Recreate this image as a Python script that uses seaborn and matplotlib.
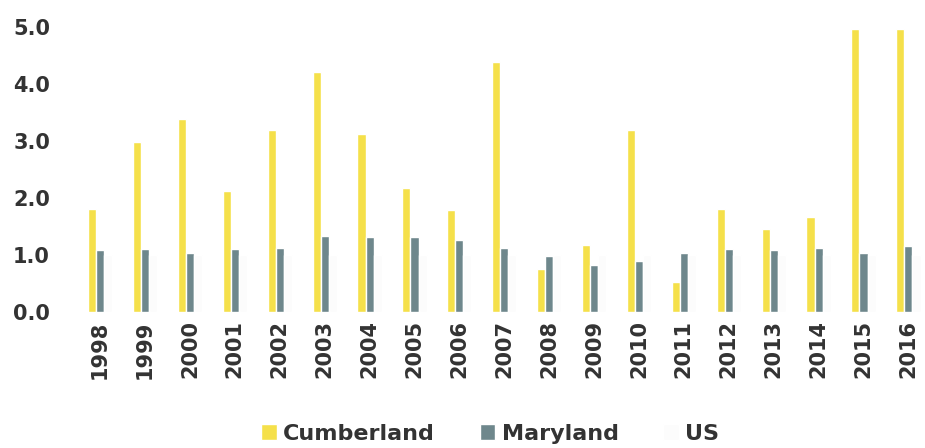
import matplotlib
matplotlib.use("Agg")
import matplotlib.pyplot as plt
import seaborn as sns
import pandas as pd

years = [str(y) for y in range(1998, 2017)]
cumberland = [1.81, 2.99, 3.39, 2.12, 3.20, 4.21, 3.13, 2.17, 1.79, 4.38,
              0.76, 1.17, 3.20, 0.52, 1.81, 1.46, 1.67, 4.96, 4.96]
maryland = [1.08, 1.11, 1.04, 1.10, 1.13, 1.34, 1.32, 1.32, 1.27, 1.13,
            0.99, 0.82, 0.90, 1.03, 1.11, 1.08, 1.13, 1.03, 1.15]
us = [1.00, 1.00, 1.00, 1.00, 1.00, 1.00, 1.00, 1.00, 1.00, 1.00,
      1.00, 1.00, 1.00, 1.00, 1.00, 1.00, 1.00, 1.00, 1.00]
series_names = ["Cumberland", "Maryland", "US"]
colors = ["#F5E04A", "#6E878C", "#FCFCFC"]

rows = []
for name, vals in zip(series_names, [cumberland, maryland, us]):
    for yr, v in zip(years, vals):
        rows.append({"Year": yr, "Region": name, "Value": v})
df = pd.DataFrame(rows)

sns.set_theme(style="white")
plt.rcParams["font.family"] = ["DejaVu Sans"]

fig = plt.figure(figsize=(9.25, 4.48), dpi=100)
ax = fig.add_axes([75 / 925, 136 / 448, 850 / 925, 297 / 448])
sns.barplot(data=df, x="Year", y="Value", hue="Region", hue_order=series_names,
            palette=colors, width=0.54, order=years, ax=ax, saturation=1,
            legend=True)
ax.set_ylim(0, 5.21)
ax.set_xlim(-0.56, 18.37)
ax.set_yticks([0, 1, 2, 3, 4, 5])
ax.set_yticklabels([f"{v:.1f}" for v in [0, 1, 2, 3, 4, 5]])
ax.set_xlabel("")
ax.set_ylabel("")
for s in ax.spines.values():
    s.set_visible(False)
ax.tick_params(axis="both", length=0, colors="#333333", labelsize=15)
ax.tick_params(axis="y", pad=18)
ax.tick_params(axis="x", pad=6)
for lab in ax.get_xticklabels():
    lab.set_rotation(90)
    lab.set_fontweight("bold")
for lab in ax.get_yticklabels():
    lab.set_fontweight("bold")

handles, labels = ax.get_legend_handles_labels()
ax.get_legend().remove()
leg = fig.legend(handles, labels, loc="lower center", bbox_to_anchor=(0.53, -0.035),
                 ncol=3, frameon=False, handlelength=0.7, handleheight=0.7,
                 handletextpad=0.3, columnspacing=2.0,
                 prop={"weight": "bold", "size": 16})
for t in leg.get_texts():
    t.set_color("#333333")

fig.savefig("out.png", dpi=100)
